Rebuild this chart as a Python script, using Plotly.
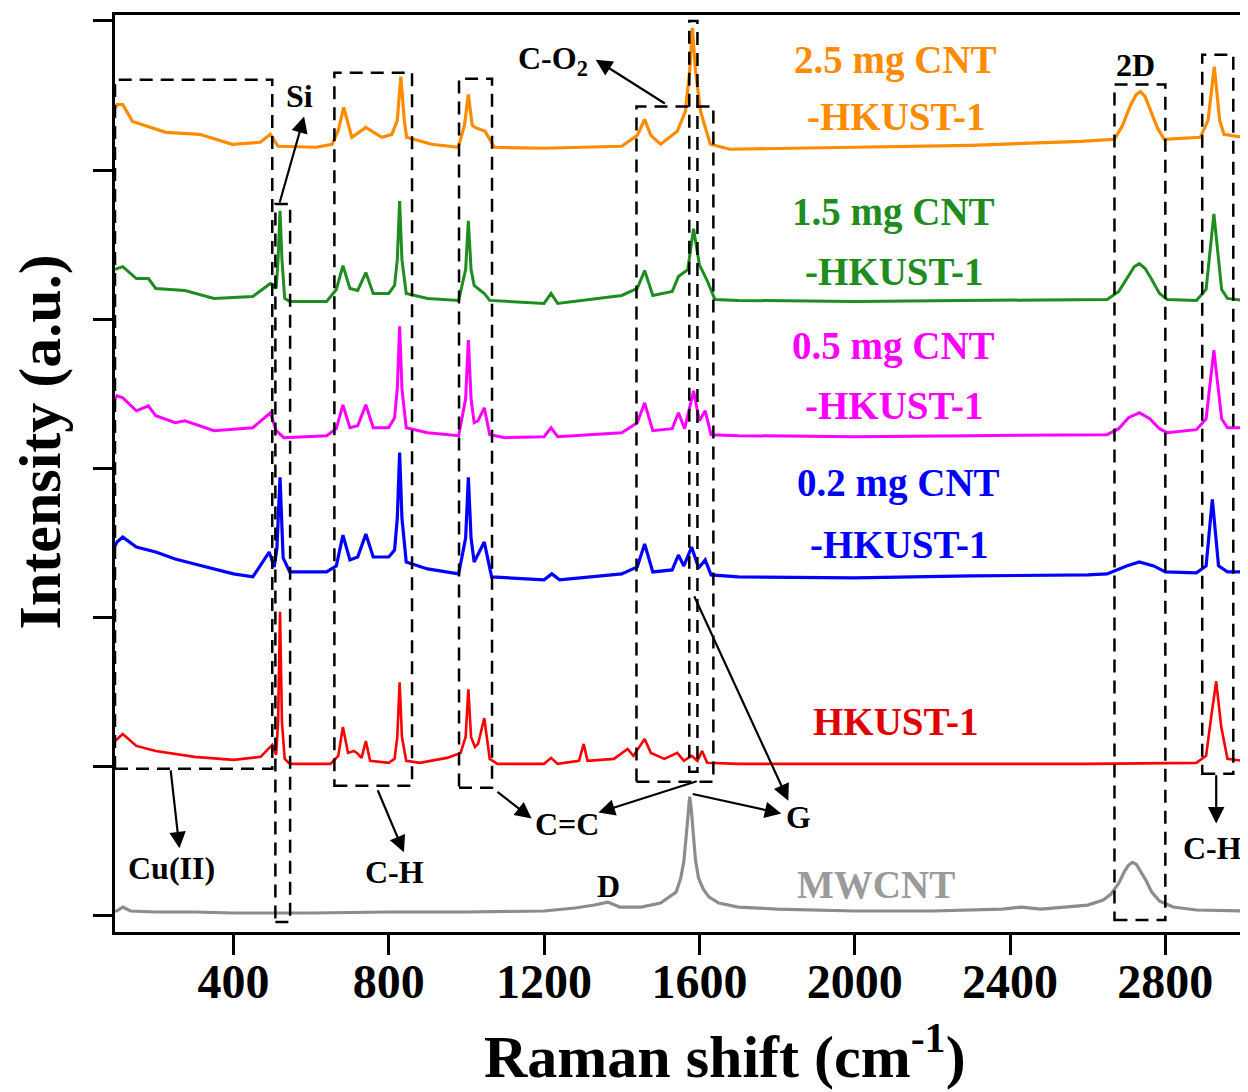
import plotly.graph_objects as go

# ---------------- data (Raman shift in cm^-1, intensity in stacked a.u.) ----------------
mw_x = [95, 100, 115, 135, 200, 300, 400, 500, 600, 800, 1000, 1200, 1280, 1330, 1364, 1395, 1450, 1500,
        1540, 1552, 1560, 1566, 1571, 1575, 1579, 1584, 1590, 1598, 1610, 1625, 1650, 1700, 1800, 2000,
        2200, 2380, 2430, 2480, 2600, 2640, 2660, 2680, 2695, 2705, 2715, 2725, 2735, 2750, 2765, 2785,
        2820, 2880, 3000]
mw_y = [5, 5, 9, 5, 4, 4, 3, 3, 3, 4, 4, 5, 8, 11, 14, 9, 9, 13,
        24, 38, 55, 80, 108, 120, 108, 80, 56, 38, 27, 19, 13, 9, 7, 5,
        5, 7, 9, 7, 11, 16, 22, 33, 45, 51, 54, 52, 46, 36, 24, 15,
        9, 6, 5]

hk_x = [95, 100, 115, 150, 200, 300, 400, 470, 500, 510, 515, 520, 525, 532, 545, 650, 670, 682, 695, 710,
        718, 730, 741, 752, 800, 815, 822, 828, 834, 845, 880, 950, 985, 998, 1005, 1012, 1022, 1030, 1046,
        1060, 1080, 1200, 1218, 1235, 1290, 1302, 1312, 1380, 1415, 1430, 1459, 1475, 1510, 1543, 1560,
        1580, 1595, 1607, 1620, 1700, 2600, 2880, 2905, 2918, 2931, 2944, 2960, 3000]
hk_y = [176, 178, 183, 171, 166, 160, 157, 160, 172, 162, 195, 306, 195, 158, 153, 153, 161, 190, 164, 166,
        164, 159, 176, 156, 154, 158, 180, 235, 180, 156, 154, 159, 164, 180, 228, 180, 170, 173, 199,
        158, 153, 153, 159, 153, 156, 173, 156, 158, 168, 161, 178, 164, 158, 164, 156,
        161, 156, 166, 154, 153, 153, 154, 161, 200, 236, 190, 158, 156]

c02_x = [95, 100, 115, 150, 200, 250, 300, 400, 450, 492, 505, 512, 520, 528, 545, 640, 665, 682, 700, 720,
         741, 760, 800, 815, 822, 828, 834, 845, 900, 980, 998, 1005, 1012, 1020, 1046, 1065, 1200, 1220,
         1240, 1400, 1440, 1459, 1480, 1530, 1546, 1560, 1580, 1598, 1615, 1630, 1700, 2000, 2300, 2600,
         2650, 2700, 2733, 2770, 2800, 2880, 2905, 2921, 2937, 2960, 3000]
c02_y = [372, 376, 381, 371, 366, 359, 354, 344, 341, 366, 351, 370, 441, 360, 346, 346, 352, 383, 358, 361,
         384, 361, 361, 368, 400, 466, 400, 356, 349, 344, 380, 441, 380, 356, 376, 341, 338, 344,
         338, 344, 351, 374, 346, 348, 363, 352, 371, 350, 358, 343, 341, 340, 342, 343,
         344, 352, 356, 352, 346, 345, 352, 419, 352, 346, 346]

c05_x = [95, 100, 115, 150, 181, 200, 250, 275, 350, 450, 495, 510, 530, 640, 665, 682, 700, 720, 741, 760,
         800, 815, 822, 828, 834, 845, 900, 980, 998, 1005, 1012, 1020, 1030, 1046, 1060, 1100, 1200, 1218,
         1235, 1400, 1440, 1459, 1480, 1530, 1546, 1562, 1585, 1600, 1615, 1630, 1700, 2000, 2300, 2600,
         2650, 2680, 2705, 2733, 2760, 2785, 2805, 2880, 2905, 2925, 2945, 2960, 3000]
c05_y = [520, 523, 521, 508, 513, 503, 496, 498, 488, 491, 506, 488, 481, 483, 490, 514, 491, 493, 514, 491,
         491, 501, 530, 593, 530, 491, 486, 483, 520, 579, 520, 496, 498, 511, 484, 481, 482, 491,
         482, 486, 496, 516, 488, 490, 506, 490, 528, 498, 508, 484, 483, 482, 483, 484,
         484, 490, 501, 506, 500, 490, 486, 489, 500, 569, 500, 491, 491]

c15_x = [95, 100, 115, 150, 181, 200, 275, 350, 450, 495, 510, 515, 520, 525, 532, 545, 640, 665, 682, 700,
         720, 741, 760, 800, 815, 822, 828, 834, 845, 900, 980, 998, 1005, 1012, 1020, 1046, 1060, 1200,
         1218, 1235, 1400, 1440, 1459, 1480, 1530, 1546, 1570, 1585, 1600, 1620, 1640, 1700, 2000, 2300,
         2600, 2650, 2680, 2705, 2720, 2733, 2748, 2765, 2785, 2805, 2880, 2905, 2925, 2945, 2960, 3000]
c15_y = [650, 651, 653, 641, 641, 631, 629, 621, 623, 636, 631, 660, 709, 660, 621, 618, 618, 630, 654, 631,
         629, 647, 626, 626, 634, 660, 719, 660, 626, 621, 619, 650, 699, 650, 634, 626, 619, 616,
         626, 616, 624, 631, 649, 624, 628, 643, 650, 691, 655, 639, 620, 619, 618, 619,
         620, 620, 628, 643, 653, 656, 651, 640, 626, 620, 619, 630, 706, 630, 621, 619]

c25_x = [95, 100, 115, 140, 226, 313, 397, 469, 495, 515, 613, 654, 670, 684, 705, 741, 782, 808, 822, 831,
         840, 846, 910, 979, 995, 1005, 1015, 1022, 1048, 1072, 1200, 1400, 1440, 1459, 1475, 1500, 1543,
         1564, 1575, 1582, 1590, 1603, 1628, 1679, 2000, 2300, 2582, 2669, 2690, 2710, 2725, 2736, 2748,
         2762, 2780, 2797, 2890, 2910, 2926, 2940, 2951, 3000]
c25_y = [812, 816, 816, 799, 788, 786, 776, 778, 786, 774, 773, 776, 790, 813, 783, 793, 783, 786, 800, 844,
         800, 783, 776, 773, 795, 826, 795, 793, 789, 773, 772, 774, 785, 801, 785, 776, 789,
         809, 850, 893, 850, 809, 776, 771, 773, 775, 779, 781, 795, 815, 826, 829, 824,
         810, 792, 781, 783, 800, 854, 800, 786, 783]

series_names = ["MWCNT", "HKUST-1", "0.2 mg CNT-HKUST-1", "0.5 mg CNT-HKUST-1",
                "1.5 mg CNT-HKUST-1", "2.5 mg CNT-HKUST-1"]
series_x = [mw_x, hk_x, c02_x, c05_x, c15_x, c25_x]
series_y = [mw_y, hk_y, c02_y, c05_y, c15_y, c25_y]
series_colors = ["#8C8C8C", "#FF0000", "#0000FF", "#FF00FF", "#1E8C1E", "#FF8C00"]
series_widths = [3.2, 2.6, 3.2, 3.0, 3.0, 3.2]

x_ticks = [400, 800, 1200, 1600, 2000, 2400, 2800]

# dashed boxes: (x0, x1, y0, y1)
boxes = [(95, 500, 148, 841),      # Cu(II)
         (508, 546, -6, 716),      # Si
         (660, 860, 131, 848),     # C-H
         (981, 1066, 129, 842),    # C=C
         (1438, 1636, 135, 814),   # C-O2
         (1574, 1595, 145, 900),   # G
         (2669, 2800, -4, 836),    # 2D
         (2895, 2975, 143, 866)]   # C-H (right)

# arrows: (tail x, tail y, head x, head y)
arrows = [(518, 716, 582, 804),
          (1515, 816, 1333, 861),
          (238, 148, 261, 68),
          (770, 128, 839, 64),
          (1076, 126, 1168, 98),
          (1597, 136, 1340, 104),
          (1579, 123, 1811, 103),
          (1585, 323, 1829, 116),
          (2931, 143, 2931, 93)]

# black peak labels: (text, x, y)
peak_labels = [("Si", 570, 825), ("C-O<sub>2</sub>", 1222, 860), ("2D", 2723, 856),
               ("Cu(II)", 241, 48), ("C-H", 816, 44), ("C=C", 1258, 93), ("G", 1854, 100),
               ("D", 1366, 30), ("C-H", 2921, 68)]

# sample labels: (text, x, y, color)
sample_labels = [("2.5 mg CNT", 2106, 861, "#FF8C00"), ("-HKUST-1", 2106, 804, "#FF8C00"),
                 ("1.5 mg CNT", 2101, 708, "#1E8C1E"), ("-HKUST-1", 2101, 648, "#1E8C1E"),
                 ("0.5 mg CNT", 2101, 573, "#FF00FF"), ("-HKUST-1", 2101, 513, "#FF00FF"),
                 ("0.2 mg CNT", 2114, 435, "#0000FF"), ("-HKUST-1", 2114, 374, "#0000FF"),
                 ("HKUST-1", 2104, 196, "#E00000"), ("MWCNT", 2055, 32, "#9A9A9A")]

FONT = "Liberation Serif, Times New Roman, serif"

fig = go.Figure()
for name, xs, ys, col, w in zip(series_names, series_x, series_y, series_colors, series_widths):
    fig.add_trace(go.Scatter(x=xs, y=ys, mode="lines", name=name,
                             line=dict(color=col, width=w), showlegend=False))

for (x0, x1, y0, y1) in boxes:
    fig.add_shape(type="rect", xref="x", yref="y", x0=x0, x1=x1, y0=y0, y1=y1,
                  line=dict(color="black", width=2.5, dash="13px,8px"))

for (tx, ty, hx, hy) in arrows:
    fig.add_annotation(x=hx, y=hy, ax=tx, ay=ty, xref="x", yref="y", axref="x", ayref="y",
                       text="", showarrow=True, arrowhead=2, arrowsize=1.5, arrowwidth=2.2,
                       arrowcolor="black")

for (t, x, y) in peak_labels:
    fig.add_annotation(x=x, y=y, xref="x", yref="y", text="<b>" + t + "</b>", showarrow=False,
                       xanchor="center", yanchor="middle",
                       font=dict(family=FONT, size=32, color="black"))

for (t, x, y, c) in sample_labels:
    fig.add_annotation(x=x, y=y, xref="x", yref="y", text="<b>" + t + "</b>", showarrow=False,
                       xanchor="center", yanchor="middle",
                       font=dict(family=FONT, size=39, color=c))

fig.add_annotation(x=0.541, y=-0.1315, xref="paper", yref="paper",
                   text="<b>Raman shift (cm<sup>-1</sup>)</b>", showarrow=False,
                   xanchor="center", yanchor="middle",
                   font=dict(family=FONT, size=60, color="black"))
fig.add_annotation(x=-0.0665, y=0.535, xref="paper", yref="paper", textangle=-90,
                   text="<b>Intensity (a.u.)</b>", showarrow=False,
                   xanchor="center", yanchor="middle",
                   font=dict(family=FONT, size=60, color="black"))

# page body has an 8px default margin, so the figure is sized to the visible window
fig.update_layout(
    width=1240, height=1084,
    margin=dict(l=107, r=2, t=7, b=160),
    paper_bgcolor="white", plot_bgcolor="white",
    showlegend=False,
)
fig.update_xaxes(range=[95, 3000], tickvals=x_ticks, ticktext=[str(v) for v in x_ticks],
                 ticks="outside", ticklen=20, tickwidth=3, tickcolor="black",
                 ticklabelstandoff=-15,
                 showline=True, linewidth=3, linecolor="black", mirror=True,
                 showgrid=False, zeroline=False,
                 tickfont=dict(family=FONT, size=48, color="black", weight="bold"))
fig.update_yaxes(range=[-16.1, 906], tick0=0, dtick=150,
                 ticks="outside", ticklen=19, tickwidth=3, tickcolor="black",
                 showline=True, linewidth=3, linecolor="black", mirror=True,
                 showgrid=False, zeroline=False, showticklabels=False)

fig.write_html("out.html")
